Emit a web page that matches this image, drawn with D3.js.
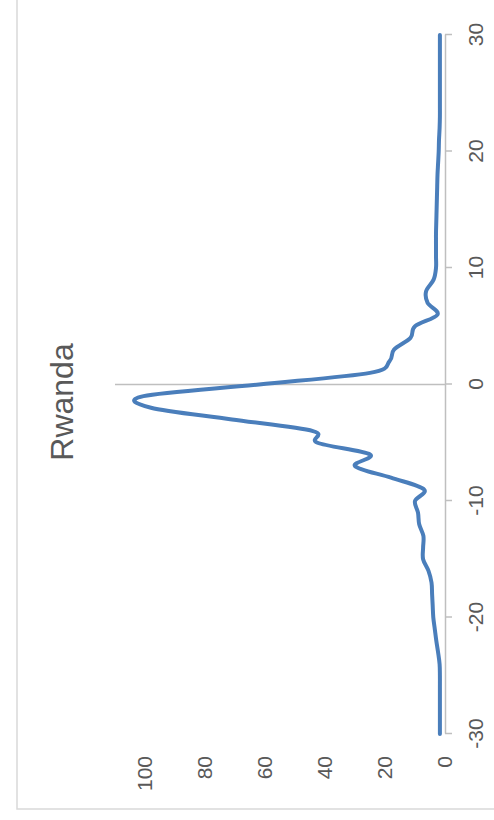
<!DOCTYPE html>
<html><head><meta charset="utf-8">
<script src="https://cdn.jsdelivr.net/npm/d3@7"></script>
<style>body{margin:0;background:#fff;overflow:hidden}</style>
</head><body>
<script>
const title = "Rwanda";
const categories = [-30,-29,-28,-27,-26,-25,-24,-23,-22,-21,-20,-19,-18,-17,-16,-15,-14,-13,-12,-11,-10,-9,-8,-7,-6,-5,-4,-3,-2,-1,0,1,2,3,4,5,6,7,8,9,10,11,12,13,14,15,16,17,18,19,20,21,22,23,24,25,26,27,28,29,30];
const values = [1.7,1.7,1.7,1.7,1.7,1.7,1.8,2.3,2.9,3.4,3.9,4.1,4.3,4.5,5.5,7.3,7.3,7.2,8.6,9.0,10.0,7.0,18.0,30.0,25.0,42.5,44.0,71.0,98.0,100.5,62.0,25.0,18.5,17.0,11.5,10.0,2.5,5.8,6.3,3.8,3.0,3.0,3.0,3.0,2.9,2.8,2.7,2.6,2.5,2.3,2.1,2.0,1.8,1.7,1.7,1.7,1.7,1.7,1.7,1.7,1.7];
const xTicks = [-30,-20,-10,0,10,20,30];
const yTicks = [0,20,40,60,80,100];

const font = "'Liberation Sans', Arial, sans-serif";
const grey = "#595959";
const axisColor = "#bfbfbf";

const svg = d3.select("body").append("svg").attr("width",494).attr("height",820);
// chart is drawn in its own 820x494 frame and rotated -90 degrees
const g = svg.append("g").attr("transform","translate(0,820) rotate(-90)");

g.append("rect").attr("x",11).attr("y",17).attr("width",830).attr("height",500)
  .attr("fill","none").attr("stroke","#d9d9d9").attr("stroke-width",1.5);

const x = d3.scaleLinear().domain([-30,30]).range([86,785]);
const y = d3.scaleLinear().domain([0,110]).range([445,115]);

// title
g.append("text").attr("x",418).attr("y",73).attr("text-anchor","middle")
  .attr("font-family",font).attr("font-size",32).attr("fill",grey).text(title);

// value axis line at category 0
g.append("line").attr("x1",x(0)).attr("x2",x(0)).attr("y1",y(0)).attr("y2",y(110))
  .attr("stroke",axisColor).attr("stroke-width",1.5);

// category axis
const xa = g.append("g").attr("transform",`translate(0,${y(0)})`)
  .call(d3.axisBottom(x).tickValues(xTicks).tickSize(7).tickSizeOuter(0).tickPadding(16).tickFormat(d=>String(d)));
xa.select(".domain").attr("stroke",axisColor).attr("stroke-width",1.5);
xa.selectAll(".tick line").attr("stroke",axisColor).attr("stroke-width",1.5);
xa.selectAll("text").attr("font-family",font).attr("font-size",21).attr("fill",grey);

// value axis labels (low position)
const ya = g.append("g").attr("transform","translate(64,0)")
  .call(d3.axisLeft(y).tickValues(yTicks).tickSize(0).tickPadding(0).tickFormat(d=>String(d)));
ya.select(".domain").remove();
ya.selectAll("text").attr("font-family",font).attr("font-size",21).attr("fill",grey);

// series
const data = categories.map((c,i)=>({c, v: values[i]}));
const line = d3.line().x(d=>x(d.c)).y(d=>y(d.v)).curve(d3.curveCardinal.tension(0));
g.append("path").datum(data).attr("d",line).attr("fill","none")
  .attr("stroke","#4a7ebb").attr("stroke-width",4).attr("stroke-linejoin","round").attr("stroke-linecap","round");
</script>
</body></html>
